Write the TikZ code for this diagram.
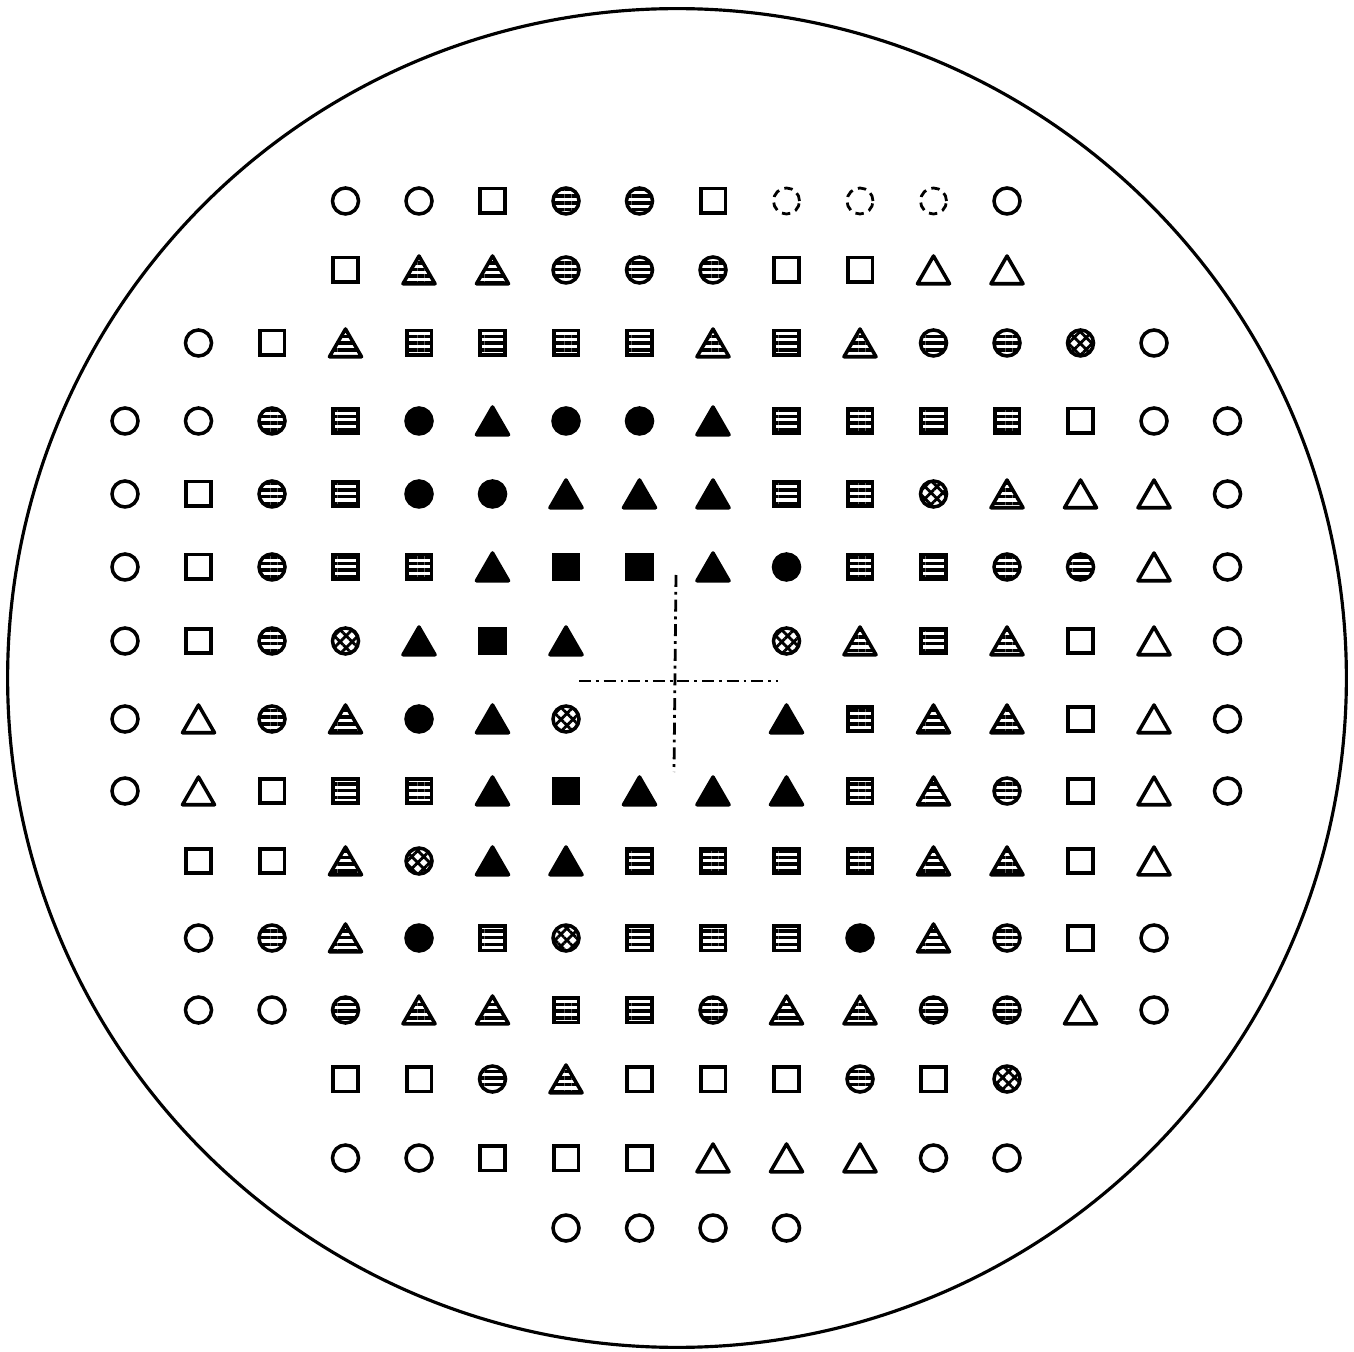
\documentclass[tikz,border=0pt]{standalone}
\usetikzlibrary{patterns.meta,shapes.geometric}

\begin{document}
\begin{tikzpicture}[
 x=0.01cm, y=-0.01cm,
 sym/.style={draw, line width=1pt, inner sep=0pt, outer sep=0pt},
 rnd/.style={sym, circle, minimum size=0.26cm},
 sqr/.style={sym, rectangle, minimum size=0.245cm},
 tri/.style={sym, regular polygon, regular polygon sides=3, minimum size=0.37cm,
 line join=round, yshift=-0.045cm},
 stripes/.style={pattern={Lines[angle=0, distance=1.9pt, line width=1pt]}},
 xhatch/.style={pattern={Hatch[angle=45, distance=2.4pt, line width=0.8pt]}},
 oc/.style={rnd}, hc/.style={rnd, stripes}, xc/.style={rnd, xhatch}, fc/.style={rnd, fill=black},
 dc/.style={rnd, line width=0.8pt, dash pattern=on 2.4pt off 1.6pt},
 os/.style={sqr}, hs/.style={sqr, stripes}, fs/.style={sqr, fill=black},
 ot/.style={tri}, ht/.style={tri, stripes}, ft/.style={tri, fill=black},
 crossline/.style={line width=0.8pt, dash pattern=on 3.4pt off 1.4pt on 0.8pt off 1.4pt}
]
\useasboundingbox (0,0) rectangle (1354,1352);

% Wafer outline
\node[circle, draw, line width=0.9pt, minimum size=13.38cm, inner sep=0pt] (wafer) at (677,678) {};

% Row 1
\foreach \s [count=\c from 3] in {oc,oc,os,hc,hc,os,dc,dc,dc,oc}
 \node[\s] (r1c\c) at ({125+73.5*\c},201) {};
% Row 2
\foreach \s [count=\c from 3] in {os,ht,ht,hc,hc,hc,os,os,ot,ot}
 \node[\s] (r2c\c) at ({125+73.5*\c},270) {};
% Row 3
\foreach \s [count=\c from 1] in {oc,os,ht,hs,hs,hs,hs,ht,hs,ht,hc,hc,xc,oc}
 \node[\s] (r3c\c) at ({125+73.5*\c},343) {};
% Row 4
\foreach \s [count=\c from 0] in {oc,oc,hc,hs,fc,ft,fc,fc,ft,hs,hs,hs,hs,os,oc,oc}
 \node[\s] (r4c\c) at ({125+73.5*\c},421) {};
% Row 5
\foreach \s [count=\c from 0] in {oc,os,hc,hs,fc,fc,ft,ft,ft,hs,hs,xc,ht,ot,ot,oc}
 \node[\s] (r5c\c) at ({125+73.5*\c},494) {};
% Row 6
\foreach \s [count=\c from 0] in {oc,os,hc,hs,hs,ft,fs,fs,ft,fc,hs,hs,hc,hc,ot,oc}
 \node[\s] (r6c\c) at ({125+73.5*\c},567) {};
% Row 7 (gap at the centre)
\foreach \s [count=\c from 0] in {oc,os,hc,xc,ft,fs,ft}
 \node[\s] (r7c\c) at ({125+73.5*\c},641) {};
\foreach \s [count=\c from 9] in {xc,ht,hs,ht,os,ot,oc}
 \node[\s] (r7c\c) at ({125+73.5*\c},641) {};
% Row 8 (gap at the centre)
\foreach \s [count=\c from 0] in {oc,ot,hc,ht,fc,ft,xc}
 \node[\s] (r8c\c) at ({125+73.5*\c},719) {};
\foreach \s [count=\c from 9] in {ft,hs,ht,ht,os,ot,oc}
 \node[\s] (r8c\c) at ({125+73.5*\c},719) {};
% Row 9
\foreach \s [count=\c from 0] in {oc,ot,os,hs,hs,ft,fs,ft,ft,ft,hs,ht,hc,os,ot,oc}
 \node[\s] (r9c\c) at ({125+73.5*\c},791) {};
% Row 10
\foreach \s [count=\c from 1] in {os,os,ht,xc,ft,ft,hs,hs,hs,hs,ht,ht,os,ot}
 \node[\s] (r10c\c) at ({125+73.5*\c},861) {};
% Row 11
\foreach \s [count=\c from 1] in {oc,hc,ht,fc,hs,xc,hs,hs,hs,fc,ht,hc,os,oc}
 \node[\s] (r11c\c) at ({125+73.5*\c},938) {};
% Row 12
\foreach \s [count=\c from 1] in {oc,oc,hc,ht,ht,hs,hs,hc,ht,ht,hc,hc,ot,oc}
 \node[\s] (r12c\c) at ({125+73.5*\c},1010) {};
% Row 13
\foreach \s [count=\c from 3] in {os,os,hc,ht,os,os,os,hc,os,xc}
 \node[\s] (r13c\c) at ({125+73.5*\c},1079) {};
% Row 14
\foreach \s [count=\c from 3] in {oc,oc,os,os,os,ot,ot,ot,oc,oc}
 \node[\s] (r14c\c) at ({125+73.5*\c},1158) {};
% Row 15
\foreach \s [count=\c from 6] in {oc,oc,oc,oc}
 \node[\s] (r15c\c) at ({125+73.5*\c},1228) {};

% Centre mark
\coordinate (vtop) at (676,575);
\coordinate (vbot) at (674,772);
\coordinate (hleft) at (579,681);
\coordinate (hright) at (778,681);
\draw[crossline] (vtop) -- (vbot);
\draw[crossline] (hleft) -- (hright);
\end{tikzpicture}
\end{document}
